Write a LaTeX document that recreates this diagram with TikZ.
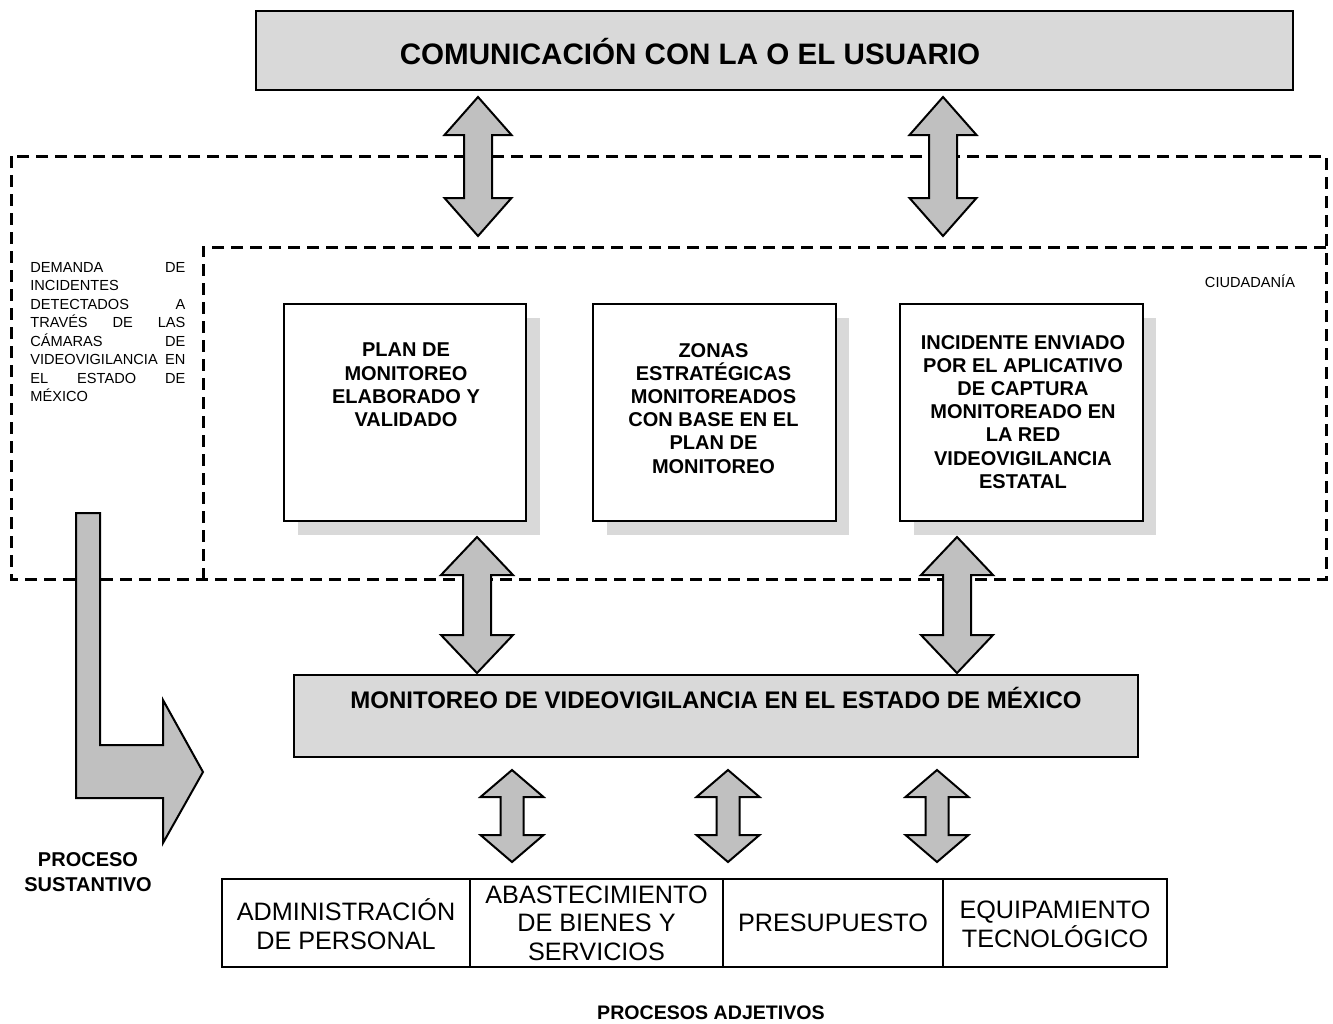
\documentclass[tikz,border=0pt]{standalone}
\usepackage{fontspec}
\setmainfont{Liberation Sans}
\definecolor{arrowgray}{RGB}{192,192,192}
\definecolor{boxgray}{RGB}{217,217,217}
\definecolor{shadowgray}{RGB}{217,217,217}
\newcommand{\dblarrow}[6]{%
  \draw[barrow] (#1,#2) -- (#1+#5,#2+#4) -- (#1+#6,#2+#4) -- (#1+#6,#3-#4) -- (#1+#5,#3-#4) -- (#1,#3)
    -- (#1-#5,#3-#4) -- (#1-#6,#3-#4) -- (#1-#6,#2+#4) -- (#1-#5,#2+#4) -- cycle;}
\begin{document}
\begin{tikzpicture}[x=0.5pt,y=-0.5pt,
  blk/.style={draw=black, line width=1pt, inner sep=0pt, anchor=north west},
  dashbox/.style={draw=black, line width=1.5pt, dash pattern=on 6pt off 3.5pt},
  barrow/.style={draw=black, line width=1pt, fill=arrowgray, line join=miter},
  shadow/.style={fill=shadowgray, draw=none, inner sep=0pt, anchor=north west},
  boxtext/.style={font=\fontsize{10}{11.6}\selectfont\bfseries, align=center, inner sep=0pt, anchor=north},
  celltext/.style={font=\fontsize{12.6}{14.2}\selectfont, align=center, inner sep=0pt},
  smalltext/.style={font=\fontsize{7.3}{9.25}\selectfont, inner sep=0pt}
]
\useasboundingbox (0,0) rectangle (1333,1023);

% dashed regions
\draw[dashbox] (11,156) rectangle (1326,579);
\draw[dashbox] (1326,247) -- (203,247) -- (203,579);

% top box
\node[blk, fill=boxgray, minimum width=518.5pt, minimum height=39.5pt] (top) at (255,10) {};
\node[font=\fontsize{14.8}{17}\selectfont\bfseries, anchor=base, inner sep=0pt] (toptext) at (690,64.5) {COMUNICACIÓN CON LA O EL USUARIO};

% left text
\node[smalltext, anchor=north west, text width=77.5pt, align=left] (demanda) at (30,262) {%
DEMANDA\hfill DE\\
INCIDENTES\\
DETECTADOS\hfill A\\
TRAVÉS\hfill DE\hfill LAS\\
CÁMARAS\hfill DE\\
VIDEOVIGILANCIA\hfill EN\\
EL\hfill ESTADO\hfill DE\\
MÉXICO};

\node[smalltext, anchor=base] (ciudadania) at (1250,287) {CIUDADANÍA};

% shadows
\node[shadow, minimum width=121pt, minimum height=108.5pt] (sh1) at (298,318) {};
\node[shadow, minimum width=121pt, minimum height=108.5pt] (sh2) at (607,318) {};
\node[shadow, minimum width=121pt, minimum height=108.5pt] (sh3) at (914,318) {};

% boxes
\node[blk, fill=white, minimum width=121pt, minimum height=108.5pt] (b1) at (283,303) {};
\node[blk, fill=white, minimum width=121.5pt, minimum height=108.5pt] (b2) at (592,303) {};
\node[blk, fill=white, minimum width=121.5pt, minimum height=108.5pt] (b3) at (899,303) {};

\node[boxtext] (t1) at (406,342.8) {PLAN DE\\MONITOREO\\ELABORADO Y\\VALIDADO};
\node[boxtext] (t2) at (713.5,342.8) {ZONAS\\ESTRATÉGICAS\\MONITOREADOS\\CON BASE EN EL\\PLAN DE\\MONITOREO};
\node[boxtext] (t3) at (1023,334.8) {INCIDENTE ENVIADO\\POR EL APLICATIVO\\DE CAPTURA\\MONITOREADO EN\\LA RED\\VIDEOVIGILANCIA\\ESTATAL};

% monitoreo box
\node[blk, fill=boxgray, minimum width=422pt, minimum height=41pt] (mon) at (293,674) {};
\node[font=\fontsize{12}{14}\selectfont\bfseries, anchor=base, inner sep=0pt] (montext) at (716,708.6) {MONITOREO DE VIDEOVIGILANCIA EN EL ESTADO DE MÉXICO};

% table
\node[blk, minimum width=124pt, minimum height=44pt] (c1) at (221,878) {};
\node[blk, minimum width=126.5pt, minimum height=44pt] (c2) at (469,878) {};
\node[blk, minimum width=110pt, minimum height=44pt] (c3) at (722,878) {};
\node[blk, minimum width=112pt, minimum height=44pt] (c4) at (942,878) {};
\node[celltext] (ct1) at ([yshift=-0.6pt]c1.center) {ADMINISTRACIÓN\\DE PERSONAL};
\node[celltext] (ct2) at (c2.center) {ABASTECIMIENTO\\DE BIENES Y\\SERVICIOS};
\node[celltext] (ct3) at (c3.center) {PRESUPUESTO};
\node[celltext] (ct4) at ([yshift=-0.6pt]c4.center) {EQUIPAMIENTO\\TECNOLÓGICO};

% labels
\node[font=\fontsize{10}{12.5}\selectfont\bfseries, align=center, anchor=north, inner sep=0pt] (sust) at (88,851.8) {PROCESO\\SUSTANTIVO};
\node[font=\fontsize{9.8}{12}\selectfont\bfseries, anchor=base, inner sep=0pt] (adj) at (711,1019) {PROCESOS ADJETIVOS};

% block arrows
\dblarrow{478}{97}{236}{38}{33.5}{14}
\dblarrow{943}{97}{236}{38}{33.5}{14}
\dblarrow{477}{537}{673}{38}{36}{14}
\dblarrow{957}{537}{673}{38}{36}{14}
\dblarrow{512}{770}{862}{27}{31.5}{11.5}
\dblarrow{728}{770}{862}{27}{31.5}{11.5}
\dblarrow{937}{770}{862}{27}{31.5}{11.5}

% L-shaped arrow
\draw[barrow] (76,513) -- (100,513) -- (100,745) -- (163,745) -- (163,700) -- (203,772) -- (163,843) -- (163,798) -- (76,798) -- cycle;
\end{tikzpicture}
\end{document}
